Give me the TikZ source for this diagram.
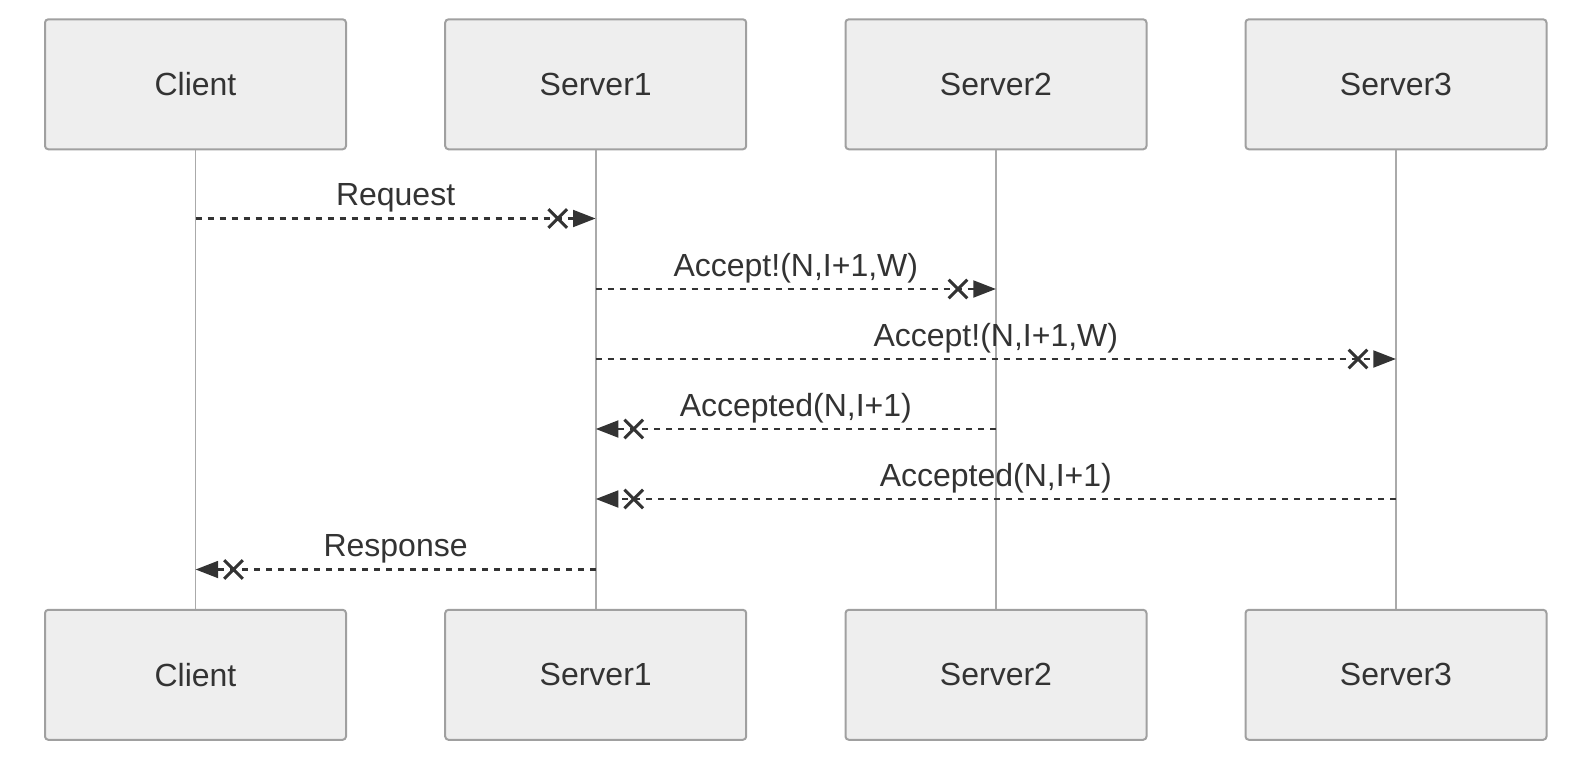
\documentclass[tikz,border=0pt]{standalone}
\usepackage{fontspec}
\setmainfont{Liberation Sans}
\usetikzlibrary{arrows.meta,decorations.markings}
\definecolor{boxfill}{HTML}{EEEEEE}
\definecolor{boxline}{HTML}{A0A0A0}
\definecolor{lifeline}{HTML}{AAAAAA}
\definecolor{ink}{HTML}{333333}
\begin{document}
\begin{tikzpicture}[x=0.75pt,y=-0.75pt,
  actor/.style={draw=boxline,line width=1.5pt,fill=boxfill,rounded corners=2.5pt,
    minimum width=225.75pt,minimum height=97.5pt,inner sep=0pt,
    font=\fontsize{24}{28}\selectfont,text=ink},
  life/.style={draw=lifeline,line width=1.3pt},
  msg/.style={draw=ink,line width=2.2pt,dash pattern=on 4.5pt off 4.5pt,
    -{Triangle[length=17pt,width=12.5pt]},
    postaction={decorate},
    decoration={markings,mark=at position -28.5pt with {
      \draw[-,ink,line width=2.3pt,solid] (-7pt,-7pt)--(7pt,7pt) (-7pt,7pt)--(7pt,-7pt);}}},
  lbl/.style={font=\fontsize{24}{28}\selectfont,text=ink,inner sep=0pt}]
\useasboundingbox (0,0) rectangle (1586,764);
% top actors
\node[actor] (cT) at (195.5,84.3) {Client};
\node[actor] (s1T) at (595.7,84.3) {Server1};
\node[actor] (s2T) at (996,84.3) {Server2};
\node[actor] (s3T) at (1396,84.3) {Server3};
% bottom actors
\node[actor] (cB) at (195.5,674.8) {Client};
\node[actor] (s1B) at (595.7,674.8) {Server1};
\node[actor] (s2B) at (996,674.8) {Server2};
\node[actor] (s3B) at (1396,674.8) {Server3};
% lifelines
\draw[life] (cT.south) -- (cB.north);
\draw[life] (s1T.south) -- (s1B.north);
\draw[life] (s2T.south) -- (s2B.north);
\draw[life] (s3T.south) -- (s3B.north);
% message anchor points
\coordinate (c1) at (195.5,218.5);
\coordinate (s1a) at (595.7,218.5);
\coordinate (s1b) at (595.7,289);
\coordinate (s2b) at (996,289);
\coordinate (s1c) at (595.7,359);
\coordinate (s3c) at (1396,359);
\coordinate (s2d) at (996,429);
\coordinate (s1d) at (595.7,429);
\coordinate (s3e) at (1396,499);
\coordinate (s1e) at (595.7,499);
\coordinate (s1f) at (595.7,569.5);
\coordinate (c6) at (195.5,569.5);
% messages
\draw[msg] (c1) -- (s1a);
\node[lbl] (l1) at (395.6,197.5) {Request};
\draw[msg] (s1b) -- (s2b);
\node[lbl] (l2) at (795.8,268) {Accept!(N,I+1,W)};
\draw[msg] (s1c) -- (s3c);
\node[lbl] (l3) at (995.8,338) {Accept!(N,I+1,W)};
\draw[msg] (s2d) -- (s1d);
\node[lbl] (l4) at (795.8,408) {Accepted(N,I+1)};
\draw[msg] (s3e) -- (s1e);
\node[lbl] (l5) at (995.8,478) {Accepted(N,I+1)};
\draw[msg] (s1f) -- (c6);
\node[lbl] (l6) at (395.6,548.5) {Response};
\end{tikzpicture}
\end{document}
